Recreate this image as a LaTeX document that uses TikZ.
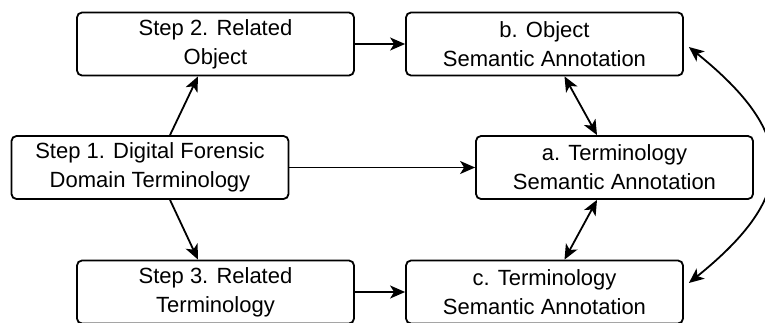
\documentclass[tikz,border=0pt]{standalone}
\usepackage{fontspec}
\setmainfont{Liberation Sans}
\usetikzlibrary{arrows.meta,calc}
\tikzset{
  stepbox/.style={draw, rounded corners=2.5pt, line width=0.9pt, minimum width=138.5pt, minimum height=31.5pt, align=center, inner sep=1pt, font=\fontsize{11}{14.5}\selectfont},
  link/.style={line width=0.9pt, -{Stealth[length=7.5pt,width=6.5pt,inset=2pt]}},
  both/.style={line width=0.9pt, {Stealth[length=7.5pt,width=6.5pt,inset=2pt]}-{Stealth[length=7.5pt,width=6.5pt,inset=2pt]}}
}
\begin{document}
\begin{tikzpicture}[x=0.5pt,y=-0.5pt]
    \useasboundingbox (0,0) rectangle (765,322);
    \node[stepbox] (s2) at (215.5,44)  {Step 2. Related\\Object};
    \node[stepbox] (s1) at (150,167.5) {Step 1. Digital Forensic\\Domain Terminology};
    \node[stepbox] (s3) at (215.5,292) {Step 3. Related\\Terminology};
    \node[stepbox] (b)  at (544.5,44)  {b. Object\\Semantic Annotation};
    \node[stepbox] (a)  at (614.5,167.5) {a. Terminology\\Semantic Annotation};
    \node[stepbox] (c)  at (544.5,292) {c. Terminology\\Semantic Annotation};
    \draw[link] ([xshift=10pt]s1.north)--([xshift=-8.75pt]s2.south);
    \draw[link] ([xshift=10pt]s1.south)--([xshift=-8.75pt]s3.north);
    \draw[link] (s2)--(b);
    \draw[link] (s1)--(a);
    \draw[link] (s3)--(c);
    \draw[both] ([xshift=10pt]b.south)--([xshift=-8.75pt]a.north);
    \draw[both] ([xshift=-8.75pt]a.south)--([xshift=10pt]c.north);
    \draw[both] ([xshift=2.5pt,yshift=-1.5pt]b.east) .. controls (798,135) and (798,195) .. ([xshift=2.5pt,yshift=4.5pt]c.east);
\end{tikzpicture}
\end{document}
